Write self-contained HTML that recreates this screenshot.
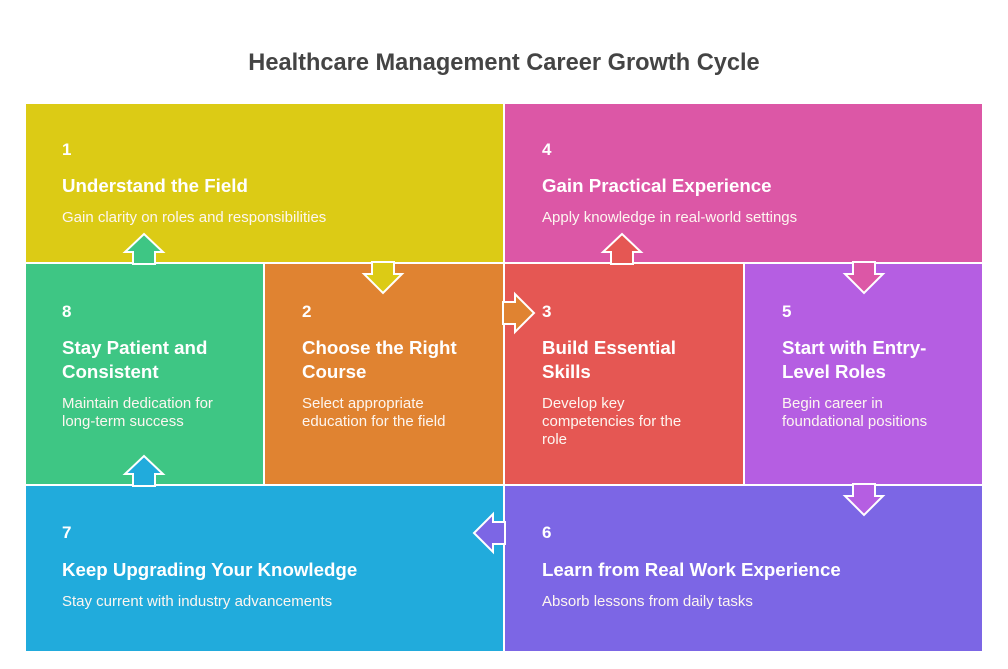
<!DOCTYPE html>
<html><head><meta charset="utf-8"><style>
body{margin:0;width:1008px;height:669px;background:#fff;position:relative;overflow:hidden;font-family:"Liberation Sans",sans-serif}
.t{position:absolute;color:#fff;white-space:nowrap}
.n{font-weight:bold;font-size:17px;line-height:20px}
.h{font-weight:bold;font-size:18.7px;line-height:24px}
.d{font-size:15px;line-height:18px;color:#fdf6f0}
</style></head><body>
<div class="t" style="left:0;width:1008px;text-align:center;top:50px;color:#444;font-weight:bold;font-size:23.6px;line-height:26px">Healthcare Management Career Growth Cycle</div>
<svg width="1008" height="669" style="position:absolute;left:0;top:0">
<g stroke="#fff" stroke-width="2">
<rect x="25" y="103" width="479" height="160" fill="#dccb15"/>
<rect x="504" y="103" width="479" height="160" fill="#dc57a6"/>
<rect x="25" y="263" width="239" height="222" fill="#3ec684"/>
<rect x="264" y="263" width="240" height="222" fill="#e08331"/>
<rect x="504" y="263" width="240" height="222" fill="#e55753"/>
<rect x="744" y="263" width="239" height="222" fill="#b55ee2"/>
<rect x="25" y="485" width="479" height="167" fill="#21abdc"/>
<rect x="504" y="485" width="479" height="167" fill="#7c66e5"/>
<polygon fill="#3ec684" points="133,264 133,252 125,252 144,234 163,252 155,252 155,264"/>
<polygon fill="#e55753" points="611,264 611,252 603,252 622,234 641,252 633,252 633,264"/>
<polygon fill="#21abdc" points="133,486 133,474 125,474 144,456 163,474 155,474 155,486"/>
<polygon fill="#dccb15" points="372,262 372,274 364,274 383,293 402,274 394,274 394,262"/>
<polygon fill="#dc57a6" points="853,262 853,274 845,274 864,293 883,274 875,274 875,262"/>
<polygon fill="#b55ee2" points="853,484 853,496 845,496 864,515 883,496 875,496 875,484"/>
<polygon fill="#e08331" points="503,302 515,302 515,294 534,313 515,332 515,324 503,324"/>
<polygon fill="#7c66e5" points="505,522 493,522 493,514 474,533 493,552 493,544 505,544"/>
</g>
</svg>
<div class="t n" style="left:62px;top:140px">1</div>
<div class="t h" style="left:62px;top:174px">Understand the Field</div>
<div class="t d" style="left:62px;top:209px">Gain clarity on roles and responsibilities</div>
<div class="t n" style="left:542px;top:140px">4</div>
<div class="t h" style="left:542px;top:174px">Gain Practical Experience</div>
<div class="t d" style="left:542px;top:209px">Apply knowledge in real-world settings</div>

<div class="t n" style="left:62px;top:302px">8</div>
<div class="t h" style="left:62px;top:336px">Stay Patient and<br>Consistent</div>
<div class="t d" style="left:62px;top:395px">Maintain dedication for<br>long-term success</div>
<div class="t n" style="left:302px;top:302px">2</div>
<div class="t h" style="left:302px;top:336px">Choose the Right<br>Course</div>
<div class="t d" style="left:302px;top:395px">Select appropriate<br>education for the field</div>
<div class="t n" style="left:542px;top:302px">3</div>
<div class="t h" style="left:542px;top:336px">Build Essential<br>Skills</div>
<div class="t d" style="left:542px;top:395px">Develop key<br>competencies for the<br>role</div>
<div class="t n" style="left:782px;top:302px">5</div>
<div class="t h" style="left:782px;top:336px">Start with Entry-<br>Level Roles</div>
<div class="t d" style="left:782px;top:395px">Begin career in<br>foundational positions</div>

<div class="t n" style="left:62px;top:523px">7</div>
<div class="t h" style="left:62px;top:558px">Keep Upgrading Your Knowledge</div>
<div class="t d" style="left:62px;top:593px">Stay current with industry advancements</div>
<div class="t n" style="left:542px;top:523px">6</div>
<div class="t h" style="left:542px;top:558px">Learn from Real Work Experience</div>
<div class="t d" style="left:542px;top:593px">Absorb lessons from daily tasks</div>
</body></html>
